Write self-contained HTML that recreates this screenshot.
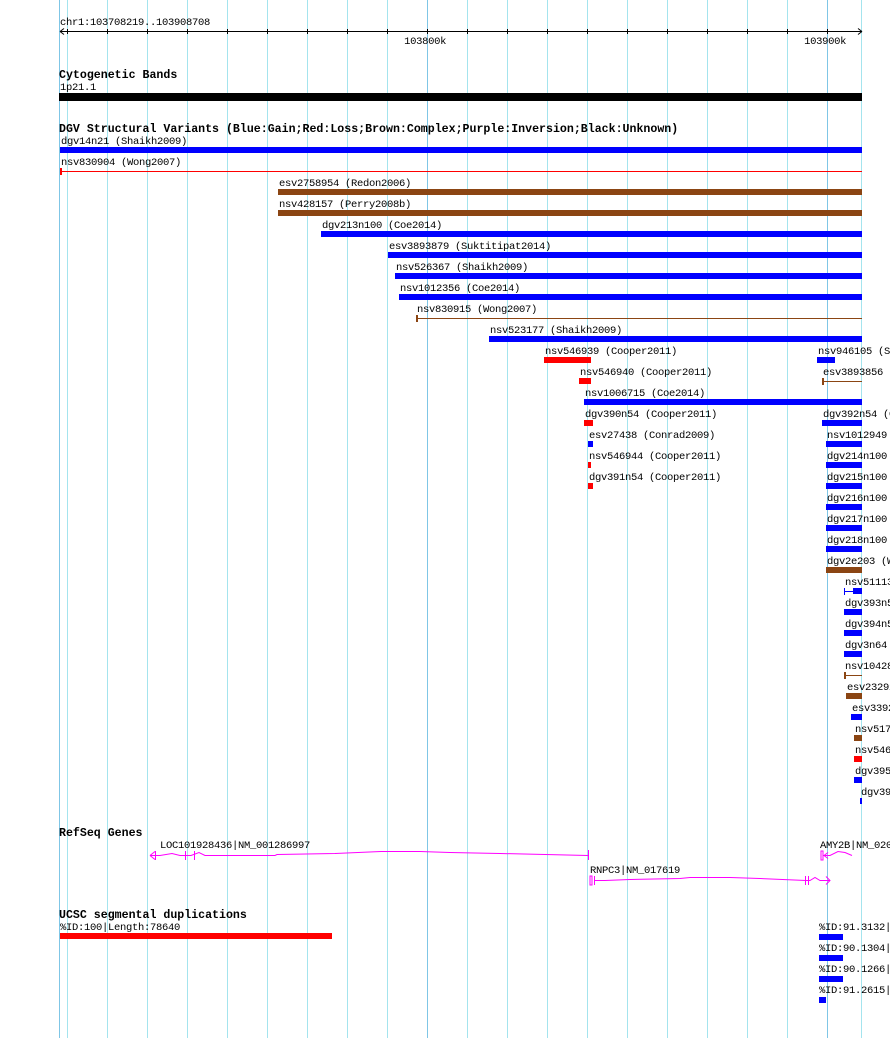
<!DOCTYPE html>
<html><head><meta charset="utf-8">
<style>
html,body{margin:0;padding:0;background:#fff;}
svg{display:block;}
text{font-family:"Liberation Mono","DejaVu Sans Mono",monospace;font-size:10.5px;letter-spacing:-0.3px;fill:#000;}
.h{font-weight:bold;font-size:11.6px;letter-spacing:0;}
</style></head>
<body>
<svg id="chart" width="890" height="1038" viewBox="0 0 890 1038" xmlns="http://www.w3.org/2000/svg" shape-rendering="crispEdges"></svg>
<script>
// genomic window (kb)
const viewStart = 103708.219;
const viewEnd = 103908.708;
const tickLabels = ["103800k", "103900k"];
const majorTicks = [103800, 103900];
// DGV variants: name, type, start (kb), end (kb)
const svNames = ["dgv14n21 (Shaikh2009)","nsv830904 (Wong2007)","esv2758954 (Redon2006)","nsv428157 (Perry2008b)","dgv213n100 (Coe2014)","esv3893879 (Suktitipat2014)","nsv526367 (Shaikh2009)","nsv1012356 (Coe2014)","nsv830915 (Wong2007)","nsv523177 (Shaikh2009)","nsv546939 (Cooper2011)","nsv946105 (Shaikh2009)","nsv546940 (Cooper2011)","esv3893856 (Suktitipat2014)","nsv1006715 (Coe2014)","dgv390n54 (Cooper2011)","dgv392n54 (Cooper2011)","esv27438 (Conrad2009)","nsv1012949 (Coe2014)","nsv546944 (Cooper2011)","dgv214n100 (Coe2014)","dgv391n54 (Cooper2011)","dgv215n100 (Coe2014)","dgv216n100 (Coe2014)","dgv217n100 (Coe2014)","dgv218n100 (Coe2014)","dgv2e203 (Wong2007)","nsv511135 (Redon2006)","dgv393n54 (Cooper2011)","dgv394n54 (Cooper2011)","dgv3n64 (Redon2006)","nsv1042857 (Coe2014)","esv2329297 (Redon2006)","esv3392 (Tuzun2005)","nsv517 (Redon2006)","nsv546 (Cooper2011)","dgv395 (Cooper2011)","dgv396 (Cooper2011)"];
const svTypes = ["gain","lossLine","complex","complex","gain","gain","gain","gain","complexLine","gain","loss","gain","loss","complexLine","gain","loss","gain","gain","gain","loss","gain","loss","gain","gain","gain","gain","complex","gainSplit","gain","gain","gain","complexLine","complex","gain","complex","loss","gain","gain"];
const svStart = [103708.2,103708.2,103762.7,103762.7,103773.5,103790.2,103792.0,103793.0,103797.2,103815.5,103829.2,103897.4,103837.9,103898.7,103839.2,103839.2,103898.7,103840.2,103899.7,103840.2,103899.7,103840.2,103899.7,103899.7,103899.7,103899.7,103899.7,103904.2,103904.2,103904.2,103904.2,103904.2,103904.7,103906.0,103906.7,103906.7,103906.7,103908.2];
const svEnd = [103908.7,103908.7,103908.7,103908.7,103908.7,103908.7,103908.7,103908.7,103908.7,103908.7,103841.0,103902.0,103841.0,103908.7,103908.7,103841.5,103908.7,103841.5,103908.7,103841.0,103908.7,103841.5,103908.7,103908.7,103908.7,103908.7,103908.7,103908.7,103908.7,103908.7,103908.7,103908.7,103908.7,103908.7,103908.7,103908.7,103908.7,103908.7];
const svRow = [0,1,2,3,4,5,6,7,8,9,10,10,11,11,12,13,13,14,14,15,15,16,16,17,18,19,20,21,22,23,24,25,26,27,28,29,30,31];
// segmental duplications
const sdNames = ["%ID:100|Length:78640","%ID:91.3132|Length:12000","%ID:90.1304|Length:12000","%ID:90.1266|Length:12000","%ID:91.2615|Length:2000"];
const sdStart = [103708.2,103898.0,103898.0,103898.0,103898.0];
const sdEnd = [103776.2,103904.0,103904.0,103904.0,103899.6];
const sdRow = [0,0,1,2,3];

const svg = document.getElementById('chart');
const NS = "http://www.w3.org/2000/svg";
const x0 = 60, x1 = 862;
function xs(kb){ return x0 + (kb - viewStart) / (viewEnd - viewStart) * (x1 - x0); }
function mk(tag, attrs, parent){ const e = document.createElementNS(NS, tag); for (const k in attrs) e.setAttribute(k, attrs[k]); (parent||svg).appendChild(e); return e; }
function txt(s, x, y, cls){ const t = mk('text', {x:x, y:y}); if (cls) t.setAttribute('class', cls); t.textContent = s; return t; }

// grid lines every 10kb
for (let k = 103710; k <= 103900; k += 10) {
  const gx = Math.round(xs(k));
  const g = mk('rect', {x:gx, y:0, width:1, height:1038, fill:(k%100===0)?'#7fc6e6':'#a4e4ee'});
  
  
}
const lg = mk('rect', {x:59, y:0, width:1, height:1038, fill:'#7fc6e6'});


const rg = mk('rect', {x:861, y:0, width:1, height:1038, fill:'#a4e4ee'});



// ruler
const rl = txt("chr1:103708219..103908708", 60, 25);


const ax = mk('rect', {x:60, y:31, width:802, height:1, fill:'#000'});


mk('path', {d:'M60 31.5 l4 -3 M60 31.5 l4 3 M862 31.5 l-4 -3 M862 31.5 l-4 3', stroke:'#000', fill:'none', 'shape-rendering':'auto'});
for (let k = 103710; k <= 103900; k += 10) {
  const tx = Math.round(xs(k));
  const tk = mk('rect', {x:tx, y:29, width:1, height:5, fill:'#000'});
  
  
}
majorTicks.forEach((k, i) => {
  const t = txt(tickLabels[i], xs(k) - 23, 44);
  
  
});

// cytogenetic
const ch = txt("Cytogenetic Bands", 59, 78, 'h');


txt("1p21.1", 60, 90);
const cb = mk('rect', {x:59, y:93, width:803, height:8, fill:'#000'});



// DGV
const dh = txt("DGV Structural Variants (Blue:Gain;Red:Loss;Brown:Complex;Purple:Inversion;Black:Unknown)", 59, 132, 'h');


const colors = {gain:'#0000ff', loss:'#ff0000', complex:'#8b4513'};
for (let i = 0; i < svNames.length; i++) {
  const top = 147 + svRow[i] * 21;
  const a = Math.round(xs(svStart[i])), b = Math.min(Math.round(xs(svEnd[i])), 862);
  const g = mk('g', {});
  
  
  const t = mk('text', {x:a + 1, y:top - 3}, g); t.textContent = svNames[i];
  const ty = svTypes[i];
  if (ty === 'lossLine' || ty === 'complexLine') {
    const c = ty === 'lossLine' ? colors.loss : colors.complex;
    mk('rect', {x:a, y:top + 3, width:b - a, height:1, fill:c}, g);
    mk('rect', {x:a, y:top, width:2, height:7, fill:c}, g);
  } else if (ty === 'gainSplit') {
    const m = Math.round(a + (b - a) * 0.5);
    mk('rect', {x:a, y:top + 3, width:m - a, height:1, fill:colors.gain}, g);
    mk('rect', {x:a, y:top, width:1, height:7, fill:colors.gain}, g);
    mk('rect', {x:m, y:top, width:b - m, height:6, fill:colors.gain}, g);
  } else {
    mk('rect', {x:a, y:top, width:Math.max(b - a, 2), height:6, fill:colors[ty]}, g);
  }
}

// RefSeq genes
const rh = txt("RefSeq Genes", 59, 836, 'h');


const M = '#ff00ff';
const g1 = mk('g', {'shape-rendering':'auto'});  
mk('text', {x:160, y:848}, g1).textContent = "LOC101928436|NM_001286997";
mk('polyline', {points:'150,855.5 160,855.5 172,853.5 180,855.5 186,855.5 191,855.5 199,852.5 205,855.5 208,855.5 220,855.5 275,855.5 277,854.5 335,853.5 381,851.5 420,851.5 450,852.5 500,853.5 588,855.5', fill:'none', stroke:M}, g1);
mk('path', {d:'M150 855.5 l5 -4 M150 855.5 l5 4 M155.5 851 v9 M185.5 851 v9 M194.5 851 v9', stroke:M, fill:'none'}, g1);
const g2 = mk('g', {'shape-rendering':'auto'});  
mk('line', {x1:588.5, y1:850, x2:588.5, y2:860, stroke:M}, g2);
mk('text', {x:590, y:873}, g2).textContent = "RNPC3|NM_017619";
mk('polyline', {points:'594,880.5 600,880.5 605,880.5 630,879.5 680,878.5 690,877.5 730,877.5 760,878.5 806,880.5 810,880.5 815,877.5 820,880.5 830,880.5', fill:'none', stroke:M}, g2);
mk('path', {d:'M590 876 h2 v9 h-2z M594.5 876 v9 M805.5 876 v9 M808.5 876 v9 M826 876.5 l4 4 l-4 4', stroke:M, fill:'none'}, g2);
const g3 = mk('g', {'shape-rendering':'auto'});  
mk('text', {x:820, y:848}, g3).textContent = "AMY2B|NM_020978";
mk('polyline', {points:'823,855.5 830,855.5 838,851.5 845,852.5 852,855.5', fill:'none', stroke:M}, g3);
mk('path', {d:'M821 851 h2 v9 h-2z M824 855.5 l4 -3 M824 855.5 l4 3', stroke:M, fill:'none'}, g3);

// segmental duplications
const sh = txt("UCSC segmental duplications", 59, 918, 'h');


for (let i = 0; i < sdNames.length; i++) {
  const top = 933 + sdRow[i] * 21;
  const a = Math.round(xs(sdStart[i])), b = Math.round(xs(sdEnd[i]));
  const g = mk('g', {});
  
  
  mk('text', {x:a, y:top - 3}, g).textContent = sdNames[i];
  mk('rect', {x:a, y:top + (i === 0 ? 0 : 1), width:b - a, height:6, fill:i === 0 ? '#ff0000' : '#0000ff'}, g);
}
</script>
</body></html>
